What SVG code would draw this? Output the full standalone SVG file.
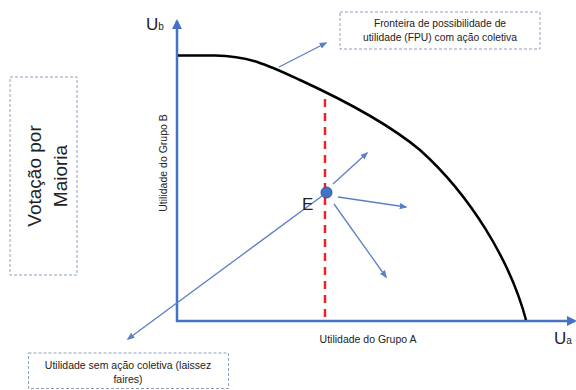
<svg xmlns="http://www.w3.org/2000/svg" width="576" height="390" viewBox="0 0 576 390">
<defs>
<style>
.box{fill:none;stroke:#8fa0bd;stroke-width:1;stroke-dasharray:3 2}
.axis{stroke:#4472c4;stroke-width:2.5;fill:none}
.arr{stroke:#5a7fc8;stroke-width:1.3;fill:none}
.t{font-family:"Liberation Sans",Arial,sans-serif;fill:#222}
</style>
<marker id="ha" viewBox="0 0 10 10" refX="8" refY="5" markerWidth="4" markerHeight="4" orient="auto"><path d="M0,0 L10,5 L0,10 z" fill="#4472c4"/></marker>
<marker id="hs" viewBox="0 0 10 10" refX="8" refY="5" markerWidth="6" markerHeight="6" orient="auto"><path d="M0,1 L10,5 L0,9 z" fill="#5a7fc8"/></marker>
</defs>
<rect width="576" height="390" fill="#fff"/>
<g id="connectors">
<line class="axis" x1="177" y1="322" x2="177" y2="21" marker-end="url(#ha)"/>
<line class="axis" x1="176" y1="321" x2="575" y2="321" marker-end="url(#ha)"/>
<path d="M178,55.5 L215,55.5 C250,56 270,66 300,80 C350,103 390,125 420,150 C470,195 510,260 526,320" fill="none" stroke="#000" stroke-width="2.5"/>
<line x1="325" y1="99" x2="325" y2="320" stroke="#ee2222" stroke-width="2.5" stroke-dasharray="8 6"/>
<line class="arr" x1="279" y1="67" x2="326" y2="43" marker-end="url(#hs)"/>
<line class="arr" x1="322" y1="196" x2="128" y2="339" marker-end="url(#hs)"/>
<line class="arr" x1="333" y1="184" x2="367" y2="153" marker-end="url(#hs)"/>
<line class="arr" x1="338" y1="197" x2="406" y2="207" marker-end="url(#hs)"/>
<line class="arr" x1="334" y1="204" x2="386" y2="277" marker-end="url(#hs)"/>
</g>
<g id="pointE">
<circle cx="326.5" cy="192.5" r="5.5" fill="#4472c4" stroke="#2f5597" stroke-width="1"/>
<text class="t" x="302" y="210" font-size="17">E</text>
</g>
<g id="ub-label"><text class="t" x="146" y="30" font-size="17">U<tspan font-size="10">b</tspan></text></g>
<g id="ua-label"><text class="t" x="554" y="344" font-size="17">U<tspan font-size="10">a</tspan></text></g>
<g id="ylabel"><text class="t" font-size="10.5" text-anchor="middle" transform="translate(167,163) rotate(-90)">Utilidade do Grupo B</text></g>
<g id="xlabel"><text class="t" x="368" y="343" font-size="10.5" text-anchor="middle">Utilidade do Grupo A</text></g>
<g id="fpu-box">
<rect class="box" x="340" y="12" width="200" height="37"/>
<text class="t" x="440" y="27" font-size="10.3" text-anchor="middle">Fronteira de possibilidade de</text>
<text class="t" x="440" y="41" font-size="10.3" text-anchor="middle">utilidade (FPU) com ação coletiva</text>
</g>
<g id="voting-box">
<rect class="box" x="10" y="77" width="67" height="198"/>
<text class="t" font-size="19" text-anchor="middle" transform="translate(41,176) rotate(-90)">Votação por</text>
<text class="t" font-size="19" text-anchor="middle" transform="translate(67,176) rotate(-90)">Maioria</text>
</g>
<g id="laissez-box">
<rect class="box" x="28.5" y="353" width="200" height="35.5"/>
<text class="t" x="128" y="369" font-size="10.5" text-anchor="middle">Utilidade sem ação coletiva (laissez</text>
<text class="t" x="128" y="383" font-size="10.5" text-anchor="middle">faires)</text>
</g>
</svg>
